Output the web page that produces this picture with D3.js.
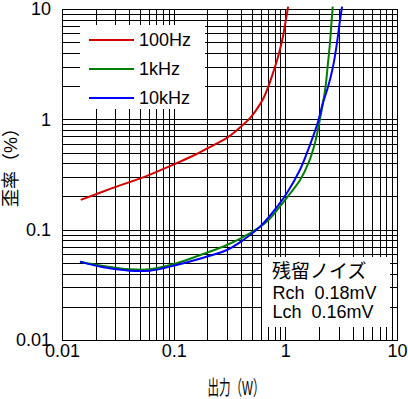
<!DOCTYPE html>
<html>
<head>
<meta charset="utf-8">
<script src="https://cdn.jsdelivr.net/npm/d3@7"></script>
<style>
  body { margin: 0; background: #fff; }
  svg { display: block; }
  text { font-family: 'Liberation Sans', 'Noto Sans CJK JP', sans-serif; fill: #000; }
</style>
</head>
<body>
<div id="chart"></div>
<script>
// ----------- DATA ------------
const seriesNames = ['100Hz', '1kHz', '10kHz'];

const watts100Hz = [0.0147, 0.027, 0.057, 0.106, 0.161, 0.21, 0.30, 0.39, 0.48, 0.55, 0.63, 0.70, 0.775, 0.86, 0.95, 1.01, 1.06];
const thd100Hz = [0.186, 0.234, 0.306, 0.40, 0.485, 0.56, 0.68, 0.84, 1.02, 1.22, 1.52, 1.95, 2.63, 3.67, 5.57, 7.95, 10.5];

const watts1kHz = [0.0145, 0.0234, 0.0406, 0.0614, 0.106, 0.184, 0.30, 0.48, 0.68, 0.96, 1.35, 1.61, 1.84, 2.04, 2.27, 2.41, 2.51, 2.60, 2.66];
const thd1kHz = [0.0513, 0.0469, 0.0437, 0.0437, 0.0496, 0.0602, 0.0726, 0.0927, 0.118, 0.178, 0.28, 0.40, 0.607, 1.0, 1.84, 3.24, 4.92, 7.95, 10.5];

const watts10kHz = [0.0145, 0.0234, 0.0406, 0.0614, 0.106, 0.184, 0.30, 0.42, 0.59, 0.78, 1.03, 1.35, 1.66, 1.96, 2.17, 2.41, 2.67, 2.90, 3.09, 3.22];
const thd10kHz = [0.0513, 0.0456, 0.0425, 0.0425, 0.0479, 0.0557, 0.0654, 0.0806, 0.106, 0.146, 0.214, 0.347, 0.585, 0.946, 1.41, 1.96, 2.98, 4.92, 7.95, 10.5];

const tickValues = [0.01, 0.1, 1, 10];
const tickLabels = ['0.01', '0.1', '1', '10'];

const xTitle = '出力（W）';
const yTitle = '歪率（%）';
const noiseTitle = '残留ノイズ';
const noiseLines = ['Rch  0.18mV', 'Lch  0.16mV'];

const series = [
  { key: seriesNames[0], value: watts100Hz.map((w, i) => ({ w: w, thd: thd100Hz[i] })) },
  { key: seriesNames[1], value: watts1kHz.map((w, i) => ({ w: w, thd: thd1kHz[i] })) },
  { key: seriesNames[2], value: watts10kHz.map((w, i) => ({ w: w, thd: thd10kHz[i] })) },
];

// ----------- SVG ------------
const width = 408, height = 399;
const margin = { top: 9, right: 11, bottom: 59, left: 62 };
const contentWidth = width - margin.left - margin.right;
const contentHeight = height - margin.top - margin.bottom;

const svg = d3
  .select('#chart')
  .append('svg')
  .attr('width', width)
  .attr('height', height);

var x = d3.scaleLog().domain([0.01, 10]).range([0, contentWidth]),
  y = d3.scaleLog().domain([0.01, 10]).range([contentHeight, 0]);

var color = d3
  .scaleOrdinal()
  .domain(seriesNames)
  .range(['#d40000', '#008000', '#0000ff']);

var g = svg
  .append('g')
  .attr('transform', `translate(${margin.left}, ${margin.top})`);

// ----------- GRID ------------
g.append('g')
  .attr('class', 'grid')
  .attr('transform', `translate(0, ${contentHeight})`)
  .call(d3.axisBottom(x).tickSizeInner(-contentHeight).tickSizeOuter(0).tickFormat(''));

g.append('g')
  .attr('class', 'grid')
  .call(d3.axisLeft(y).tickSizeInner(-contentWidth).tickSizeOuter(0).tickFormat(''));

g.selectAll('.grid .domain').remove();
g.selectAll('.grid line')
  .attr('stroke', '#000')
  .attr('stroke-width', 1)
  .attr('shape-rendering', 'crispEdges');

// white boxes over the grid (legend + residual noise)
g.append('rect')
  .attr('x', 80 - margin.left)
  .attr('y', 25 - margin.top)
  .attr('width', 125)
  .attr('height', 84)
  .attr('fill', '#fff');

g.append('rect')
  .attr('x', 262 - margin.left)
  .attr('y', 257 - margin.top)
  .attr('width', 128)
  .attr('height', 70)
  .attr('fill', '#fff');

// frame
g.append('rect')
  .attr('width', contentWidth)
  .attr('height', contentHeight)
  .attr('fill', 'none')
  .attr('stroke', '#000')
  .attr('stroke-width', 1)
  .attr('shape-rendering', 'crispEdges');

// ----------- AXIS LABELS ------------
const xAxis = g
  .append('g')
  .attr('transform', `translate(0, ${contentHeight})`)
  .call(
    d3.axisBottom(x)
      .tickValues(tickValues)
      .tickSize(0)
      .tickPadding(4)
      .tickFormat((d, i) => tickLabels[i])
  );

const yAxis = g
  .append('g')
  .call(
    d3.axisLeft(y)
      .tickValues(tickValues)
      .tickSize(0)
      .tickPadding(11)
      .tickFormat((d, i) => tickLabels[i])
  );

[xAxis, yAxis].forEach(function (a) {
  a.select('.domain').remove();
  a.attr('font-family', null).attr('font-size', null);
  a.selectAll('text').style('font-size', '18px').attr('fill', '#000');
});

svg.append('text')
  .attr('x', 236)
  .attr('y', 395)
  .attr('text-anchor', 'middle')
  .attr('textLength', 57)
  .attr('lengthAdjust', 'spacingAndGlyphs')
  .style('font-size', '20px')
  .text(xTitle);

svg.append('text')
  .attr('transform', 'translate(17, 163) rotate(-90)')
  .attr('text-anchor', 'middle')
  .style('font-size', '18px')
  .text(yTitle);

// ----------- LINES ------------
var line = d3
  .line()
  .x(function (d) {
    return x(d.w);
  })
  .y(function (d) {
    return y(d.thd);
  })
  .curve(d3.curveCatmullRom.alpha(0.5));

g.selectAll('.line')
  .data(series)
  .enter()
  .append('path')
  .attr('class', function (d) {
    return `line s${d.key}`;
  })
  .attr('d', function (d) {
    return line(d.value);
  })
  .attr('fill', 'none')
  .attr('stroke-width', 2)
  .attr('stroke', (d) => color(d.key));

// ----------- LEGEND ------------
var legend = svg
  .selectAll('.legend')
  .data(seriesNames)
  .enter()
  .append('g')
  .attr('class', 'legend')
  .attr('transform', (d, i) => `translate(0, ${40 + i * 29})`);

legend.append('line')
  .attr('x1', 89)
  .attr('x2', 134)
  .attr('stroke-width', 2)
  .attr('stroke', (d) => color(d));

legend.append('text')
  .attr('x', 139)
  .attr('y', 6)
  .style('font-size', '18px')
  .text((d) => d);

// ----------- RESIDUAL NOISE ------------
svg.append('text')
  .attr('x', 272)
  .attr('y', 278)
  .style('font-size', '19px')
  .text(noiseTitle);

svg.selectAll('.noise')
  .data(noiseLines)
  .enter()
  .append('text')
  .attr('class', 'noise')
  .attr('x', 272.5)
  .attr('y', (d, i) => 299 + i * 19)
  .style('font-size', '18px')
  .style('white-space', 'pre')
  .text((d) => d);
</script>
</body>
</html>
